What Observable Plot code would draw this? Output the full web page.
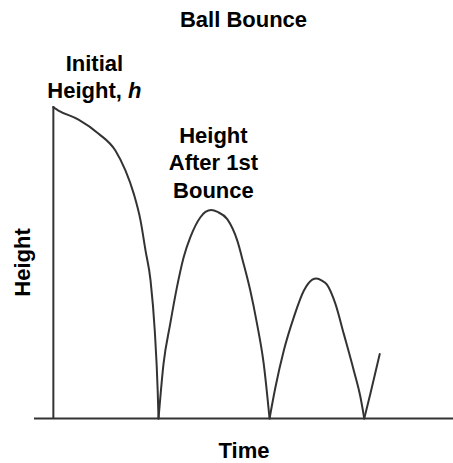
<!DOCTYPE html>
<html><head><meta charset="utf-8">
<script src="https://cdn.jsdelivr.net/npm/d3@7"></script>
<script src="https://cdn.jsdelivr.net/npm/@observablehq/plot@0.6"></script>
<style>
body{margin:0;background:#fff;font-family:"Liberation Sans",Arial,sans-serif;}
#title{margin-left:34px;width:419px;height:25px;padding-top:9px;line-height:22px;font-size:22px;font-weight:bold;text-align:center;color:#000;}
</style></head><body>
<div id="title">Ball Bounce</div>
<div id="chart"></div>
<script>
// Time (arbitrary units) and height (arbitrary units)
const fallTime = [0, 0.12, 0.60, 1.08, 1.48, 1.72, 1.92, 2.08, 2.20, 2.32, 2.42, 2.49, 2.51];
const fallHeight = [9.97, 9.87, 9.58, 9.13, 8.59, 7.95, 7.20, 6.35, 5.38, 4.42, 2.82, 0.90, 0];
const bounce1Time = [2.51, 2.63, 2.79, 2.95, 3.11, 3.27, 3.51, 3.63, 3.77, 3.92, 4.15, 4.39, 4.54, 4.70, 4.86, 5.02, 5.16];
const bounce1Height = [0, 1.76, 3.04, 4.21, 5.17, 5.81, 6.45, 6.62, 6.68, 6.62, 6.39, 5.70, 4.96, 4.10, 3.04, 1.76, 0];
const bounce2Time = [5.16, 5.30, 5.50, 5.74, 5.98, 6.18, 6.28, 6.41, 6.53, 6.73, 6.93, 7.17, 7.33, 7.42];
const bounce2Height = [0, 1.00, 2.18, 3.25, 4.10, 4.45, 4.49, 4.42, 4.29, 3.68, 2.72, 1.54, 0.68, 0];
const bounce3Time = [7.42, 7.57, 7.79];
const bounce3Height = [0, 0.82, 2.07];

const annotationText = ["Initial\nHeight, h", "Height\nAfter 1st\nBounce"];
const annotationTime = [0.98, 3.82];
const annotationHeight = [10.26, 7.08];

const segments = [
  ["fall", fallTime, fallHeight],
  ["bounce1", bounce1Time, bounce1Height],
  ["bounce2", bounce2Time, bounce2Height],
  ["bounce3", bounce3Time, bounce3Height]
];
const rows = segments.flatMap(([name, ts, hs]) => ts.map((t, i) => ({segment: name, t, h: hs[i]})));
const notes = annotationText.map((label, i) => ({label, t: annotationTime[i], h: annotationHeight[i]}));

const font = '"Liberation Sans", Arial, sans-serif';
const chart = Plot.plot({
  width: 453, height: 429,
  marginLeft: 34, marginRight: 0, marginTop: 72, marginBottom: 45,
  style: {fontFamily: font, background: "white", color: "#000", overflow: "visible"},
  x: {domain: [-0.45, 9.55]},
  y: {domain: [0, 10]},
  marks: [
    Plot.ruleY([0], {stroke: "#333", strokeWidth: 2}),
    Plot.ruleX([0], {y1: 0, y2: 10, stroke: "#333", strokeWidth: 2}),
    Plot.line(rows, {x: "t", y: "h", z: "segment", curve: "monotone-x", stroke: "#333", strokeWidth: 2}),
    Plot.text(notes, {x: "t", y: "h", text: "label", lineAnchor: "bottom", lineHeight: 1.25, fontSize: 22, fontWeight: "bold", fill: "#000"}),
    Plot.axisX({ticks: [], tickSize: 0, label: "Time", labelAnchor: "center", labelArrow: "none", labelOffset: 39, fontSize: 22, fontWeight: "bold"}),
    Plot.axisY({ticks: [], tickSize: 0, label: "Height", labelAnchor: "center", labelArrow: "none", labelOffset: 20, fontSize: 22, fontWeight: "bold"})
  ]
});
document.getElementById("chart").appendChild(chart);
d3.select(chart).selectAll("tspan").each(function() {
  if (this.textContent === "Height, h") {
    const s = d3.select(this);
    s.text("Height, ");
    s.append("tspan").style("font-style", "italic").text("h");
  }
});
</script>
</body></html>
